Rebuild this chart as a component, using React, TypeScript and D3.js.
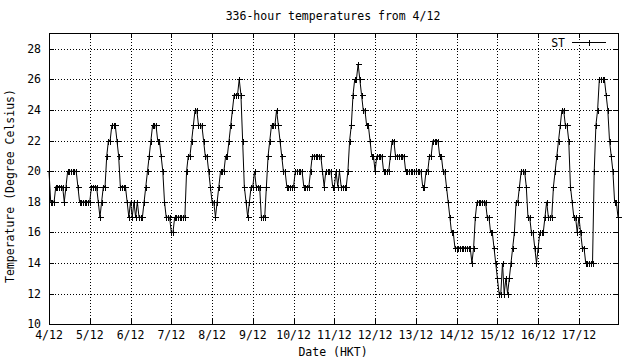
import React, { useEffect, useRef } from 'react';
import * as d3 from 'd3';

// hourly temperatures (deg C), 336 hours starting 4/12 00:00
const temps: number[] = [
  20, 18, 18, 18, 19, 19, 19, 19, 19, 18,
  19, 20, 20, 20, 20, 20, 20, 19, 18, 18,
  18, 18, 18, 18, 18, 19, 19, 19, 19, 18,
  17, 18, 19, 19, 21, 22, 22, 23, 23, 23,
  22, 21, 19, 19, 19, 19, 18, 17, 18, 17,
  18, 17, 18, 17, 17, 17, 18, 19, 20, 21,
  22, 23, 23, 23, 22, 22, 21, 20, 18, 17,
  17, 17, 16, 16, 17, 17, 17, 17, 17, 17,
  17, 20, 21, 21, 22, 23, 24, 24, 23, 23,
  23, 22, 21, 21, 20, 19, 18, 18, 17, 18,
  19, 20, 20, 20, 21, 21, 22, 23, 24, 25,
  25, 25, 26, 25, 22, 19, 18, 17, 18, 19,
  19, 20, 19, 19, 19, 17, 17, 17, 19, 21,
  22, 23, 23, 23, 24, 23, 22, 21, 20, 20,
  19, 19, 19, 19, 19, 20, 20, 20, 20, 20,
  19, 19, 19, 19, 20, 21, 21, 21, 21, 21,
  21, 20, 19, 20, 20, 20, 20, 19, 19, 20,
  19, 20, 19, 19, 19, 19, 20, 22, 23, 25,
  26, 26, 27, 26, 25, 24, 24, 23, 23, 22,
  21, 21, 20, 21, 21, 21, 21, 20, 20, 20,
  20, 21, 22, 22, 21, 21, 21, 21, 21, 21,
  20, 20, 20, 20, 20, 20, 20, 20, 20, 20,
  19, 19, 20, 20, 21, 21, 22, 22, 22, 22,
  21, 21, 20, 20, 19, 18, 17, 16, 16, 15,
  15, 15, 15, 15, 15, 15, 15, 15, 15, 14,
  15, 17, 18, 18, 18, 18, 18, 18, 17, 17,
  16, 16, 15, 14, 13, 12, 12, 14, 12, 13,
  12, 13, 14, 15, 16, 18, 18, 19, 20, 20,
  20, 19, 17, 17, 16, 16, 15, 14, 15, 16,
  16, 16, 17, 18, 17, 17, 17, 19, 20, 21,
  22, 23, 24, 24, 23, 23, 22, 19, 18, 17,
  17, 16, 17, 16, 15, 15, 14, 14, 14, 14,
  14, 20, 23, 24, 26, 26, 26, 26, 25, 24,
  22, 21, 20, 18, 18, 17,
];

const dateLabels = ['4/12', '5/12', '6/12', '7/12', '8/12', '9/12', '10/12', '11/12', '12/12', '13/12', '14/12', '15/12', '16/12', '17/12'];
const yTicks = [10, 12, 14, 16, 18, 20, 22, 24, 26, 28];

const FONT = '"DejaVu Sans Mono", "Liberation Mono", monospace';

const App: React.FC = () => {
  const svgRef = useRef<SVGSVGElement | null>(null);

  useEffect(() => {
    const svg = d3.select(svgRef.current);
    const width = 640;
    const height = 360;
    const plot = { left: 49, right: 618, top: 33, bottom: 324 };

    svg.selectAll('*').remove();
    svg.append('rect').attr('width', width).attr('height', height).attr('fill', 'white');

    const x = d3.scaleLinear().domain([0, temps.length - 1]).range([plot.left, plot.right]);
    const y = d3.scaleLinear().domain([10, 29]).range([324.3, 33.4]);
    const px = (v: number) => Math.round(v) + 0.5;

    const g = svg.append('g').attr('shape-rendering', 'crispEdges');

    // grid
    yTicks.slice(1).forEach((t) => {
      g.append('line')
        .attr('x1', plot.left).attr('x2', plot.right)
        .attr('y1', px(y(t))).attr('y2', px(y(t)))
        .attr('stroke', 'black').attr('stroke-dasharray', '1,2');
    });
    dateLabels.forEach((_, i) => {
      if (i === 0) return;
      const xx = px(x(i * 24));
      g.append('line')
        .attr('x1', xx).attr('x2', xx)
        .attr('y1', plot.top).attr('y2', plot.bottom)
        .attr('stroke', 'black').attr('stroke-dasharray', '1,2');
    });

    // ticks on all four sides
    const tl = 5;
    yTicks.forEach((t) => {
      const yy = px(y(t));
      g.append('line').attr('x1', plot.left).attr('x2', plot.left + tl).attr('y1', yy).attr('y2', yy).attr('stroke', 'black');
      g.append('line').attr('x1', plot.right - tl).attr('x2', plot.right).attr('y1', yy).attr('y2', yy).attr('stroke', 'black');
    });
    dateLabels.forEach((_, i) => {
      const xx = px(x(i * 24));
      g.append('line').attr('x1', xx).attr('x2', xx).attr('y1', plot.bottom - tl).attr('y2', plot.bottom).attr('stroke', 'black');
      g.append('line').attr('x1', xx).attr('x2', xx).attr('y1', plot.top).attr('y2', plot.top + tl).attr('stroke', 'black');
    });

    // border
    g.append('rect')
      .attr('x', plot.left + 0.5).attr('y', plot.top + 0.5)
      .attr('width', plot.right - plot.left).attr('height', plot.bottom - plot.top)
      .attr('fill', 'none').attr('stroke', 'black');

    // tick labels
    const txt = svg.append('g').attr('font-family', FONT).attr('font-size', 11.5).attr('fill', 'black');
    yTicks.forEach((t) => {
      txt.append('text').attr('x', 41).attr('y', y(t) + 4).attr('text-anchor', 'end').text(t);
    });
    dateLabels.forEach((d, i) => {
      txt.append('text').attr('x', x(i * 24)).attr('y', 339).attr('text-anchor', 'middle').text(d);
    });

    txt.append('text').attr('x', 333).attr('y', 20).attr('text-anchor', 'middle').text('336-hour temperatures from 4/12');
    txt.append('text').attr('x', 333).attr('y', 356).attr('text-anchor', 'middle').text('Date (HKT)');
    txt.append('text')
      .attr('transform', 'translate(14,186) rotate(-90)')
      .attr('text-anchor', 'middle')
      .text('Temperature (Degree Celsius)');

    // series
    const line = d3.line<number>().x((_, i) => x(i)).y((d) => y(d));
    svg.append('path').datum(temps).attr('d', line).attr('fill', 'none').attr('stroke', 'black').attr('stroke-width', 1);

    const plus = (cx: number, cy: number) => {
      const a = Math.round(cx) + 0.5;
      const b = Math.round(cy) + 0.5;
      return `M${a - 3},${b}H${a + 3}M${a},${b - 3}V${b + 3}`;
    };
    svg.append('path')
      .attr('d', temps.map((d, i) => plus(x(i), y(d))).join(''))
      .attr('stroke', 'black').attr('fill', 'none').attr('shape-rendering', 'crispEdges');

    // legend
    txt.append('text').attr('x', 565).attr('y', 47).attr('text-anchor', 'end').text('ST');
    svg.append('line').attr('x1', 572).attr('x2', 606).attr('y1', 42.5).attr('y2', 42.5)
      .attr('stroke', 'black').attr('shape-rendering', 'crispEdges');
    svg.append('path').attr('d', plus(589, 42)).attr('stroke', 'black').attr('shape-rendering', 'crispEdges');
  }, []);

  return (
    <svg ref={svgRef} width={640} height={360} style={{ position: 'absolute', left: 0, top: 0 }}></svg>
  );
};

export default App;
